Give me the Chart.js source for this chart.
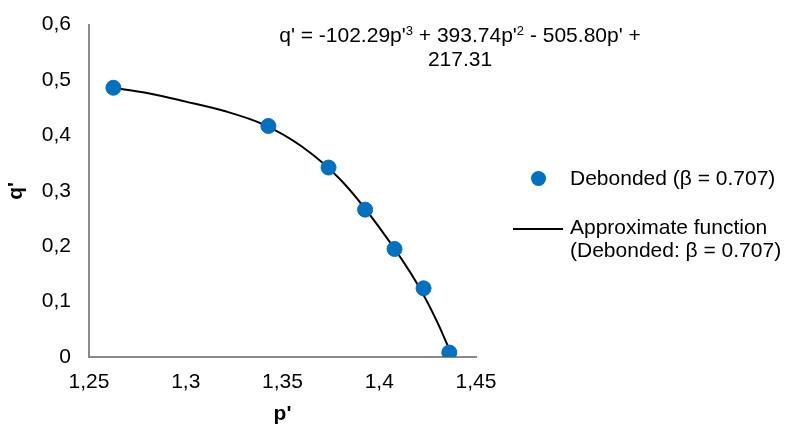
<!DOCTYPE html>
<html>
<head>
<meta charset="utf-8">
<script src="https://cdn.jsdelivr.net/npm/chart.js@4"></script>
<style>
  body { margin: 0; background: #fff; font-family: "Liberation Sans", Arial, sans-serif; }
  #wrap { position: relative; width: 785px; height: 424px; }
  .txt { position: absolute; color: #000; font-size: 21px; white-space: nowrap; }
  #eq { left: 260px; width: 400px; top: 23px; text-align: center; line-height: 24px; }
  #eq sup { font-size: 13px; vertical-align: 7px; line-height: 0; }
  .dot { position: absolute; width: 15px; height: 15px; border-radius: 50%; background: #0070C0; }
  .ln { position: absolute; height: 2px; background: #000; }
</style>
</head>
<body>
<div id="wrap">
  <canvas id="chart" width="785" height="424"></canvas>
  <div id="eq" class="txt">q' = -102.29p'<sup>3</sup> + 393.74p'<sup>2</sup> - 505.80p' +<br>217.31</div>
  <div class="dot" style="left:531px; top:171px;"></div>
  <div class="txt" style="left:570px; top:166px;">Debonded (β = 0.707)</div>
  <div class="ln" style="left:513px; top:228px; width:50px;"></div>
  <div class="txt" style="left:570px; top:215px; line-height:23px;">Approximate function<br>(Debonded: β = 0.707)</div>
</div>
<script>
// measured points
const pX = [1.2626, 1.3427, 1.3738, 1.3927, 1.4079, 1.4229, 1.4362];
const qY = [0.486, 0.417, 0.342, 0.266, 0.195, 0.124, 0.008];

// approximate function
const fitX = [1.2626, 1.28, 1.30, 1.32, 1.34, 1.36, 1.38, 1.40, 1.42, 1.43, 1.4358];
const fitY = [0.486, 0.4765, 0.461, 0.444, 0.420, 0.380, 0.320, 0.234, 0.130, 0.063, 0.017];

const xTicks = [1.25, 1.3, 1.35, 1.4, 1.45];
const yTicks = [0, 0.1, 0.2, 0.3, 0.4, 0.5, 0.6];

const comma = v => String(Math.round(v * 100) / 100).replace('.', ',');
const axisGray = '#898989';

new Chart(document.getElementById('chart'), {
  type: 'scatter',
  data: {
    datasets: [
      {
        label: 'Approximate function',
        data: fitX.map((x, i) => ({ x, y: fitY[i] })),
        showLine: true,
        borderColor: '#000',
        borderWidth: 2,
        pointRadius: 0,
        cubicInterpolationMode: 'monotone',
        order: 2
      },
      {
        label: 'Debonded',
        data: pX.map((x, i) => ({ x, y: qY[i] })),
        backgroundColor: '#0070C0',
        borderColor: '#0070C0',
        pointRadius: 7.5,
        order: 1
      }
    ]
  },
  options: {
    responsive: false,
    animation: false,
    layout: { padding: { top: 20, right: 309, left: 0, bottom: 0 } },
    plugins: { legend: { display: false }, tooltip: { enabled: false } },
    scales: {
      x: {
        type: 'linear',
        min: 1.25, max: 1.45,
        afterBuildTicks: s => { s.ticks = xTicks.map(v => ({ value: v })); },
        afterFit: s => { s.height = 67; },
        ticks: { callback: comma, color: '#000', font: { size: 21, family: 'Liberation Sans' }, padding: 7, maxRotation: 0 },
        grid: { display: false, drawTicks: true, tickLength: 6, tickColor: axisGray, tickWidth: 2 },
        border: { color: axisGray, width: 2 },
        title: { display: true, text: "p'", color: '#000', font: { size: 21, weight: 'bold', family: 'Liberation Sans' }, padding: { top: 0, bottom: -3 } }
      },
      y: {
        min: 0, max: 0.6,
        afterBuildTicks: s => { s.ticks = yTicks.map(v => ({ value: v })); },
        afterFit: s => { s.width = 89; },
        ticks: { callback: comma, color: '#000', font: { size: 21, family: 'Liberation Sans' }, padding: 12 },
        grid: { display: false, drawTicks: true, tickLength: 6, tickColor: axisGray, tickWidth: 2 },
        border: { color: axisGray, width: 2 },
        title: { display: true, text: "q'", color: '#000', font: { size: 21, weight: 'bold', family: 'Liberation Sans' }, padding: { top: 4, bottom: 0 } }
      }
    }
  }
});
</script>
</body>
</html>
